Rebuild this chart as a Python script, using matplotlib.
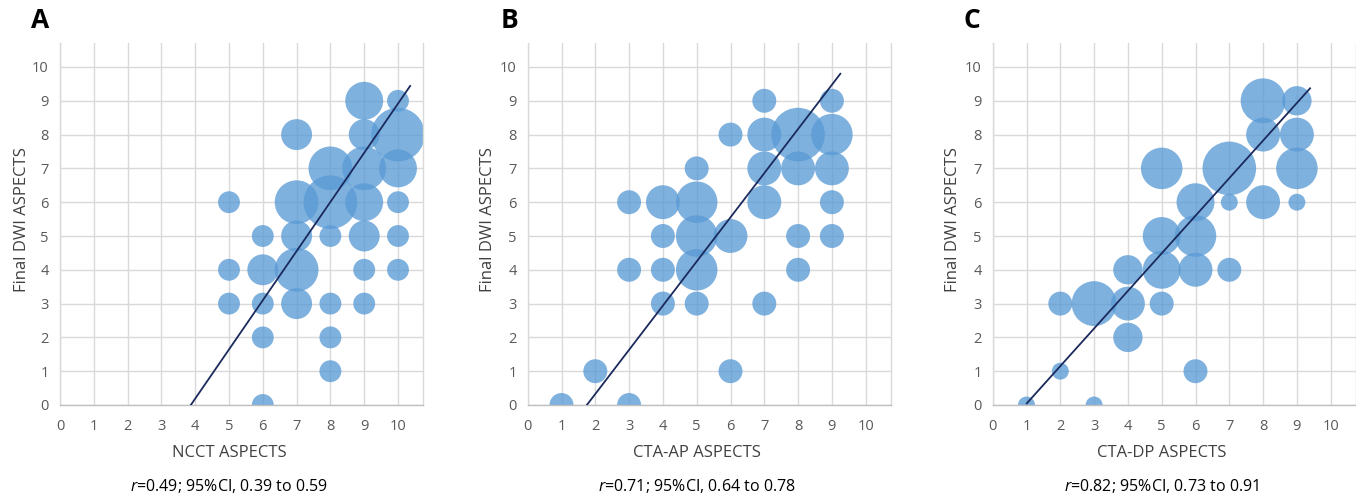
import matplotlib
matplotlib.use("Agg")
import matplotlib.pyplot as plt
import numpy as np

plt.rcParams['font.family'] = ['Open Sans', 'DejaVu Sans']
plt.rcParams['mathtext.fontset'] = 'custom'
plt.rcParams['mathtext.it'] = 'Open Sans:italic'

# ---------------- data ----------------
# Panel A: NCCT ASPECTS vs Final DWI ASPECTS (x, y, count)
a_x = [5, 5, 5, 6, 6, 6, 6, 6, 7, 7, 7, 7, 7, 8, 8, 8, 8, 8, 8, 9, 9, 9, 9, 9, 9, 9, 10, 10, 10, 10, 10, 10]
a_y = [6, 4, 3, 5, 4, 3, 2, 0, 8, 6, 5, 4, 3, 7, 6, 5, 3, 2, 1, 9, 8, 7, 6, 5, 4, 3, 9, 8, 7, 6, 5, 4]
a_n = [1, 1, 1, 1, 2, 1, 1, 1, 2, 4, 2, 4, 2, 4, 6, 1, 1, 1, 1, 3, 2, 4, 3, 2, 1, 1, 1, 6, 3, 1, 1, 1]
a_fit_x = [3.87, 10.36]
a_fit_y = [0.0, 9.44]

# Panel B: CTA-AP ASPECTS
b_x = [1, 2, 3, 3, 3, 4, 4, 4, 4, 5, 5, 5, 5, 5, 6, 6, 6, 7, 7, 7, 7, 7, 8, 8, 8, 8, 9, 9, 9, 9, 9]
b_y = [0, 1, 0, 4, 6, 3, 4, 5, 6, 3, 4, 5, 6, 7, 1, 5, 8, 3, 6, 7, 8, 9, 4, 5, 7, 8, 5, 6, 7, 8, 9]
b_n = [1, 1, 1, 1, 1, 1, 1, 1, 2, 1, 3, 3, 3, 1, 1, 2, 1, 1, 2, 2, 2, 1, 1, 1, 2, 5, 1, 1, 2, 3, 1]
b_fit_x = [1.75, 9.25]
b_fit_y = [0.0, 9.8]

# Panel C: CTA-DP ASPECTS
c_x = [1, 2, 2, 3, 3, 4, 4, 4, 5, 5, 5, 5, 6, 6, 6, 6, 7, 7, 7, 8, 8, 8, 9, 9, 9, 9]
c_y = [0, 1, 3, 0, 3, 2, 3, 4, 3, 4, 5, 7, 1, 4, 5, 6, 4, 6, 7, 6, 8, 9, 6, 7, 8, 9]
c_n = [1, 1, 2, 1, 7, 3, 4, 3, 2, 5, 5, 6, 2, 4, 6, 5, 2, 1, 10, 4, 4, 7, 1, 6, 4, 3]
c_fit_x = [1.01, 9.39]
c_fit_y = [0.05, 9.37]

panel_letters = ["A", "B", "C"]
x_labels = ["NCCT ASPECTS", "CTA-AP ASPECTS", "CTA-DP ASPECTS"]
y_label = "Final DWI ASPECTS"
r_texts = [("0.49", "0.39", "0.59"), ("0.71", "0.64", "0.78"), ("0.82", "0.73", "0.91")]
ticks = list(range(0, 11))

# ---------------- figure ----------------
W, H = 1356, 497
DPI = 100
fig = plt.figure(figsize=(W / DPI, H / DPI), dpi=DPI)

unit = 33.8  # px per data unit
xmax, ymax = 10.75, 10.7
ax_w = xmax * unit / W
ax_h = ymax * unit / H
lefts_px = [60, 527.7, 992.7]
bottom = (H - 405) / H

datasets = [(a_x, a_y, a_n, a_fit_x, a_fit_y),
            (b_x, b_y, b_n, b_fit_x, b_fit_y),
            (c_x, c_y, c_n, c_fit_x, c_fit_y)]
ylab_px = [21.7, 488, 953]
letter_px = [40, 510, 972]

grid_c = "#d9d9d9"
bubble_c = "#5B9BD5"
rmax_px = 26.8

for i, (xs, ys, ns, fx, fy) in enumerate(datasets):
    ax = fig.add_axes([lefts_px[i] / W, bottom, ax_w, ax_h])
    ax.set_xlim(0, xmax)
    ax.set_ylim(0, ymax)
    ax.set_xticks(ticks)
    ax.set_yticks(ticks)
    ax.tick_params(length=0, labelsize=10.5, labelcolor="#595959", pad=10)
    ax.tick_params(axis='y', pad=8)
    ax.spines['top'].set_visible(False)
    for sp in ['left', 'right', 'bottom']:
        ax.spines[sp].set_color(grid_c)
        ax.spines[sp].set_linewidth(1.0)
    ax.spines['bottom'].set_color("#bfbfbf")
    ax.set_axisbelow(True)
    for t in ticks:
        ax.axhline(t, color=grid_c, lw=1.0, zorder=0)
        ax.axvline(t, color=grid_c, lw=1.0, zorder=0)
    ns_arr = np.array(ns, dtype=float)
    r_px = rmax_px * np.sqrt(ns_arr / ns_arr.max())
    s = (2 * r_px * 72 / DPI) ** 2
    ax.scatter(xs, ys, s=s, color=bubble_c, alpha=0.78, linewidths=0, zorder=2)
    ax.plot(fx, fy, color="#1b2a5c", lw=1.3, zorder=3)

    cx = (lefts_px[i] + 5 * unit) / W
    fig.text(cx, 1 - 453 / H, x_labels[i], ha='center', va='center',
             fontsize=12, color="#404040")
    fig.text(ylab_px[i] / W, 1 - 220 / H, y_label, ha='center', va='center',
             rotation=90, fontsize=12, color="#404040")
    rv, lo, hi = r_texts[i]
    fig.text(cx, 1 - 486 / H, r"$\it{r}$" + f"={rv}; 95%CI, {lo} to {hi}",
             ha='center', va='center', fontsize=11.5, color="black")
    fig.text(letter_px[i] / W, 1 - 21 / H, panel_letters[i], ha='center', va='center',
             fontsize=19, fontweight='bold', color="black")

fig.savefig("out.png", dpi=DPI)
